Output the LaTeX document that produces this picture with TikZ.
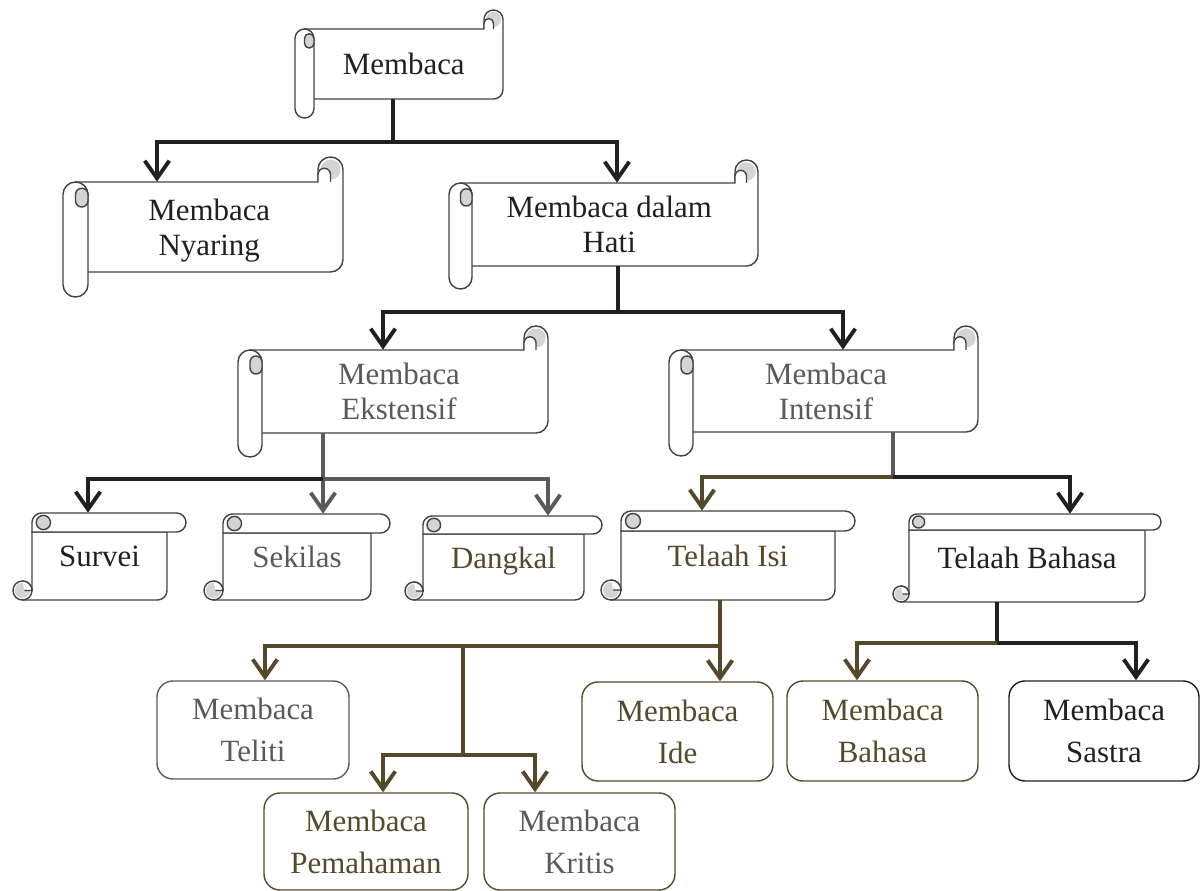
\documentclass[tikz,border=0pt]{standalone}
\usepackage{fontspec}
\setmainfont{Liberation Serif}
\usetikzlibrary{arrows.meta}

\def\px{0.02cm}
\definecolor{ink}{HTML}{231F20}
\definecolor{inkgray}{HTML}{5A5A5A}
\definecolor{inkolive}{HTML}{55492C}
\definecolor{curlgray}{HTML}{D4D4D4}

\tikzset{
  scrollline/.style={line width=0.8pt, draw=ink!85},
  link/.style={line width=2.2pt, draw=ink},
  arr/.style={link, -{Straight Barb[length=10pt,width=14pt]}},
  scrolltext/.style 2 args={minimum width=#1*\px, minimum height=#2*\px, inner sep=0pt,
    align=center, text depth=0pt, text=ink, font=\fontsize{17.6}{19.8}\selectfont},
  roundbox/.style 2 args={draw=ink, line width=0.8pt, rounded corners=0.32cm,
    minimum width=#1*\px, minimum height=#2*\px, inner sep=0pt,
    align=center, text depth=0pt, text=ink, font=\fontsize{17.6}{23.8}\selectfont},
}

% vertical scroll: left, top, right, bottom, roll width (px)
\newcommand{\vscroll}[5]{%
  \pgfmathsetmacro{\rollr}{#5/2}%
  \filldraw[scrollline, fill=white] (#1+\rollr,#2+#5) -- (#3-#5,#2+#5) -- (#3-#5,#2+\rollr)
    arc[start angle=180,end angle=360,radius=\rollr] -- (#3,#4-#5-\rollr)
    arc[start angle=0,end angle=90,radius=\rollr] -- (#1+\rollr,#4-#5) -- cycle;
  \fill[curlgray] (#3-\rollr,#2+\rollr) circle[radius={0.8*\rollr}];
  \filldraw[scrollline, fill=white] (#3-#5,#2+#5) -- (#3-#5,#2+1.4*\rollr)
    arc[start angle=180,end angle=360,radius={0.5*\rollr}] -- (#3-\rollr,#2+#5);
  \filldraw[scrollline, fill=white] (#1,#4-\rollr) -- (#1,#2+#5+\rollr)
    arc[start angle=180,end angle=360,radius=\rollr] -- (#1+#5,#4-\rollr)
    arc[start angle=0,end angle=180,radius=\rollr] -- cycle;
  \filldraw[scrollline, fill=curlgray] (#1+\rollr,#2+#5+\rollr)
    arc[start angle=180,end angle=360,radius={0.5*\rollr}] -- (#1+#5,#2+#5+1.5*\rollr)
    arc[start angle=0,end angle=180,radius={0.5*\rollr}] -- cycle;
}

% horizontal scroll: left, top, right, bottom, roll width (px)
\newcommand{\hscroll}[5]{%
  \pgfmathsetmacro{\rollr}{#5/2}%
  \filldraw[scrollline, fill=white] (#1+#5,#2+#5) -- (#1+#5,#4-\rollr) -- (#1+\rollr,#4-\rollr)
    -- (#1+\rollr,#4) -- (#3-#5-\rollr,#4) arc[start angle=90,end angle=0,radius=\rollr]
    -- (#3-#5,#2+#5) -- cycle;
  \filldraw[scrollline, fill=white] (#1+\rollr,#4-\rollr) circle[radius=\rollr];
  \fill[curlgray] (#1+\rollr,#4-\rollr) circle[radius={0.8*\rollr}];
  \fill[white] (#1+1.2*\rollr,#4-\rollr) -- (#1+#5,#4-\rollr)
    arc[start angle=0,end angle=-90,radius=\rollr] -- cycle;
  \draw[scrollline] (#1+1.2*\rollr,#4-\rollr) -- (#1+#5,#4-\rollr)
    arc[start angle=0,end angle=-90,radius=\rollr];
  \filldraw[scrollline, fill=white] (#1+#5,#2+#5) -- (#1+#5,#2+\rollr)
    arc[start angle=180,end angle=270,radius=\rollr] -- (#3-\rollr,#2)
    arc[start angle=270,end angle=450,radius=\rollr] -- cycle;
  \filldraw[scrollline, fill=curlgray] (#1+#5+1.2*\rollr,#2+\rollr) circle[radius={0.75*\rollr}];
}

\begin{document}
\begin{tikzpicture}[x=\px, y=-\px]
\useasboundingbox (0,0) rectangle (1201,891);

% Scrolls
\vscroll{295}{10}{503}{118}{19}
\vscroll{63}{157}{343}{297}{25}
\vscroll{449}{160}{758}{289}{23}
\vscroll{238}{326}{548}{457}{24}
\vscroll{669}{326}{978}{456}{24}
\hscroll{13}{513}{186}{600}{19}
\hscroll{204}{514}{390}{600}{19}
\hscroll{405}{516}{602}{600}{18}
\hscroll{601}{511}{855}{600}{20}
\hscroll{893}{514}{1161}{602}{16}

% Level 1-3 texts
\node[scrolltext={198.5}{70}] (membaca) at (403.75,64) {Membaca};
\node[scrolltext={267.5}{90}] (nyaring) at (209.25,227) {Membaca\\Nyaring};
\node[scrolltext={297.5}{83}] (hati) at (609.25,224.5) {Membaca dalam\\Hati};
\node[scrolltext={298}{83}, text=inkgray] (ekstensif) at (399,391.5) {Membaca\\Ekstensif};
\node[scrolltext={297}{82}, text=inkgray] (intensif) at (826,391) {Membaca\\Intensif};

% Level 4
\node[scrolltext={135}{87}] (survei) at (99.5,556.5) {Survei};
\node[scrolltext={148}{86}, text=inkgray] (sekilas) at (297,557) {Sekilas};
\node[scrolltext={161}{84}, text=inkolive] (dangkal) at (503.5,558) {Dangkal};
\node[scrolltext={214}{89}, text=inkolive] (isi) at (728,555.5) {Telaah Isi};
\node[scrolltext={236}{88}] (telaahbahasa) at (1027,558) {Telaah Bahasa};

% Level 5
\node[roundbox={192}{98}, draw=inkgray, text=inkgray] (teliti) at (253,730) {Membaca\\Teliti};
\node[roundbox={204}{97}, draw=inkolive, text=inkolive] (pemahaman) at (366,841.5) {Membaca\\Pemahaman};
\node[roundbox={191}{97}, draw=inkolive, text=inkgray] (kritis) at (579.5,841.5) {Membaca\\Kritis};
\node[roundbox={191}{99}, draw=inkolive, text=inkolive] (ide) at (677.5,731.5) {Membaca\\Ide};
\node[roundbox={191}{100}, draw=inkolive, text=inkolive] (mbahasa) at (882.5,731) {Membaca\\Bahasa};
\node[roundbox={190}{100}] (sastra) at (1104,731) {Membaca\\Sastra};

% Connectors
\coordinate (j1) at (393,142);
\draw[link] (membaca.south -| j1) -- (j1);
\draw[arr] (j1) -| (nyaring.north -| 157,0);
\draw[arr] (j1) -| (hati.north -| 617,0);

\coordinate (j2) at (618,312);
\draw[link] (hati.south -| j2) -- (j2);
\draw[arr] (j2) -| (ekstensif.north -| 383,0);
\draw[arr] (j2) -| (intensif.north -| 843,0);

\coordinate (j3) at (323,479);
\draw[arr, draw=inkgray] (ekstensif.south -| j3) -- (sekilas.north -| j3);
\draw[arr] (j3) -| (survei.north -| 88,0);
\draw[arr, draw=inkgray] (j3) -| (dangkal.north -| 548,0);

\coordinate (j4) at (893,477);
\draw[link, draw=inkgray] (intensif.south -| j4) -- (j4);
\draw[arr, draw=inkolive] (j4) -| (isi.north -| 702,0);
\draw[arr] (j4) -| (telaahbahasa.north -| 1070,0);

\coordinate (j5) at (720,646);
\coordinate (j6) at (463,755);
\draw[arr, draw=inkolive] (isi.south -| j5) -- (ide.north -| j5);
\draw[arr, draw=inkolive] (j5) -| (teliti.north -| 265,0);
\draw[link, draw=inkolive] (j5 -| j6) -- (j6);
\draw[arr, draw=inkolive] (j6) -| (pemahaman.north -| 383,0);
\draw[arr, draw=inkolive] (j6) -| (kritis.north -| 535,0);

\coordinate (j7) at (997,643);
\draw[link] (telaahbahasa.south -| j7) -- (j7);
\draw[arr, draw=inkolive] (j7) -| (mbahasa.north -| 857,0);
\draw[arr] (j7) -| (sastra.north -| 1136,0);
\end{tikzpicture}
\end{document}
